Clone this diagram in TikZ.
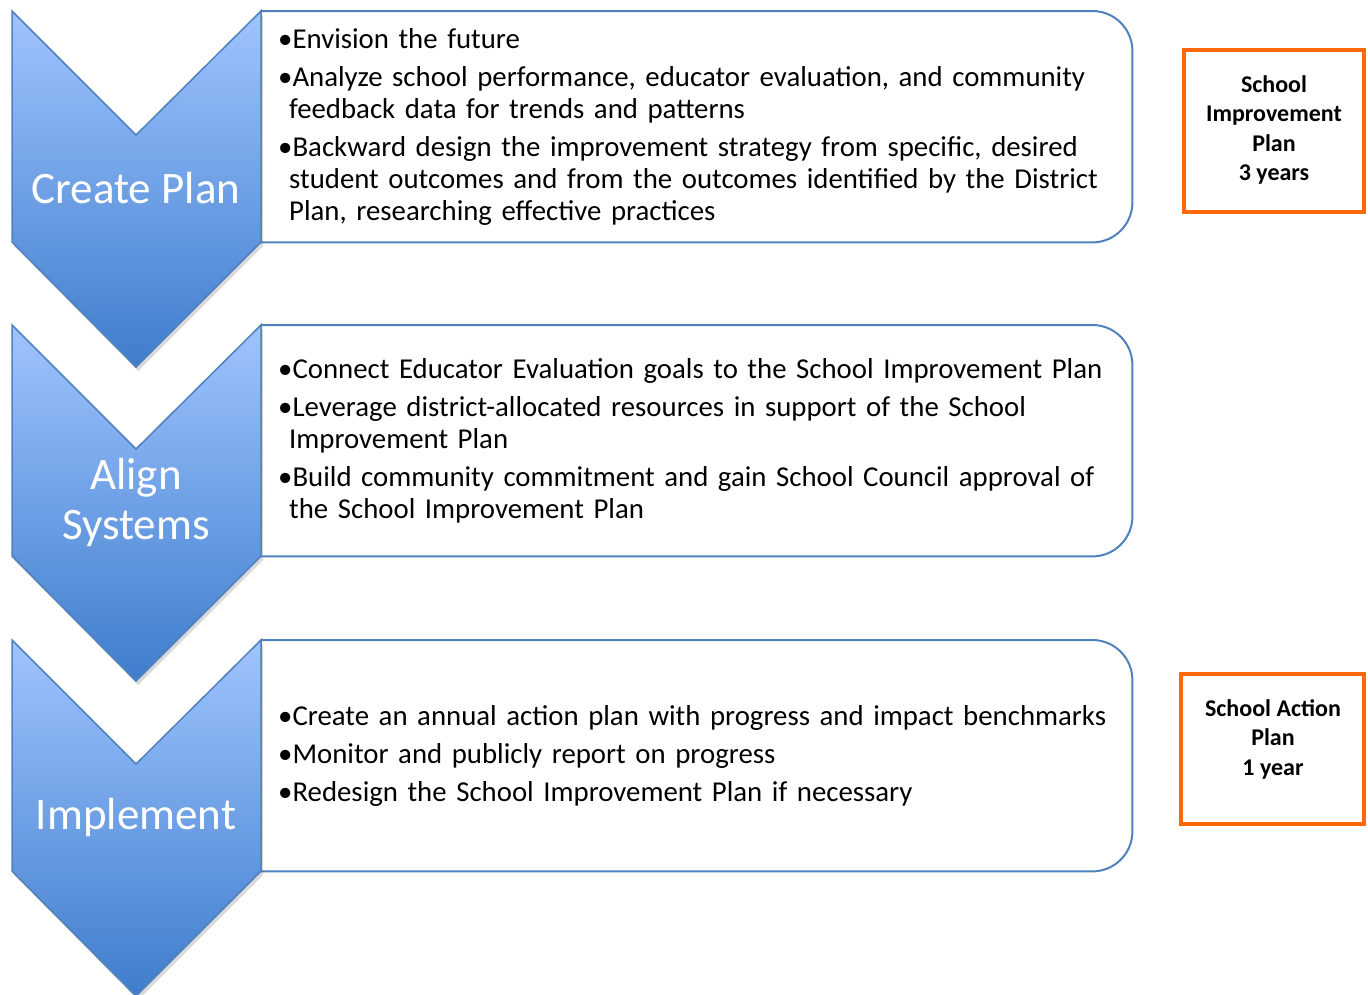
\documentclass[tikz,border=0pt]{standalone}
\usepackage{fontspec}
\setmainfont{Carlito}
\usetikzlibrary{positioning, shadows}
\definecolor{chtop}{RGB}{160,196,255}
\definecolor{chbot}{RGB}{62,125,204}
\definecolor{chline}{RGB}{79,129,189}
\definecolor{orng}{RGB}{255,104,8}
\newcommand{\hang}{\hspace*{11pt}}
\tikzset{
  chev/.style={draw=chline, line width=1.5pt, top color=chtop, bottom color=chbot,
    drop shadow={shadow xshift=2pt, shadow yshift=-4pt, opacity=0.25, fill=black!60}},
  pan/.style={minimum width=871pt, minimum height=231pt, inner xsep=17pt, text width=837pt,
    align=left, anchor=north west, font=\fontsize{28.8pt}{32pt}\selectfont},
  panline/.style={draw=chline, line width=2pt, rounded corners=40pt},
  clab/.style={text=white, align=center, font=\fontsize{45pt}{50pt}\selectfont},
  plan/.style={draw=orng, line width=4pt, inner sep=0pt},
  plab/.style={align=center, font=\fontsize{24pt}{29.5pt}\selectfont\bfseries}
}

\begin{document}
\begin{tikzpicture}[x=1pt, y=-1pt]
	\useasboundingbox (0,0) rectangle (1368,994);
	\begin{scope}[shift={(0,11)}]
	\node[pan] (p1) at (261,0) {\textbullet Envision the future\\[6pt]
		\textbullet Analyze school performance, educator evaluation, and community\\
		\hang feedback data for trends and patterns\\[6pt]
		\textbullet Backward design the improvement strategy from specific, desired\\
		\hang student outcomes and from the outcomes identified by the District\\
		\hang Plan, researching effective practices};
	\draw[panline] (p1.north west) -- (p1.north east) -- (p1.south east) -- (p1.south west);
	\path[chev] (12,0) -- (136,124) -- (261,0) -- (261,231) -- (136,356) -- (12,231) -- cycle;
	\node[clab] (c1) at (136,177) {Create Plan};
	\end{scope}
	\begin{scope}[shift={(0,325)}]
	\node[pan] (p2) at (261,0) {\textbullet Connect Educator Evaluation goals to the School Improvement Plan\\[6pt]
		\textbullet Leverage district-allocated resources in support of the School\\
		\hang Improvement Plan\\[6pt]
		\textbullet Build community commitment and gain School Council approval of\\
		\hang the School Improvement Plan};
	\draw[panline] (p2.north west) -- (p2.north east) -- (p2.south east) -- (p2.south west);
	\path[chev] (12,0) -- (136,124) -- (261,0) -- (261,231) -- (136,356) -- (12,231) -- cycle;
	\node[clab] (c2) at (136,177) {Align\\Systems};
	\end{scope}
	\begin{scope}[shift={(0,640)}]
	\node[pan] (p3) at (261,0) {\textbullet Create an annual action plan with progress and impact benchmarks\\[6pt]
		\textbullet Monitor and publicly report on progress\\[6pt]
		\textbullet Redesign the School Improvement Plan if necessary};
	\draw[panline] (p3.north west) -- (p3.north east) -- (p3.south east) -- (p3.south west);
	\path[chev] (12,0) -- (136,124) -- (261,0) -- (261,231) -- (136,356) -- (12,231) -- cycle;
	\node[clab] (c3) at (136,177) {Implement};
	\end{scope}
	% plan length boxes
	\node[plan, minimum width=180pt, minimum height=162pt] (sip) at (1274,131) {};
	\node[plab] (siplab) at (1274,130) {School\\Improvement\\Plan\\3 years};
	\node[plan, minimum width=183pt, minimum height=150pt] (sap) at (1272.5,749) {};
	\node[plab] (saplab) at (1273,739) {School Action\\Plan\\1 year};
\end{tikzpicture}
\end{document}
